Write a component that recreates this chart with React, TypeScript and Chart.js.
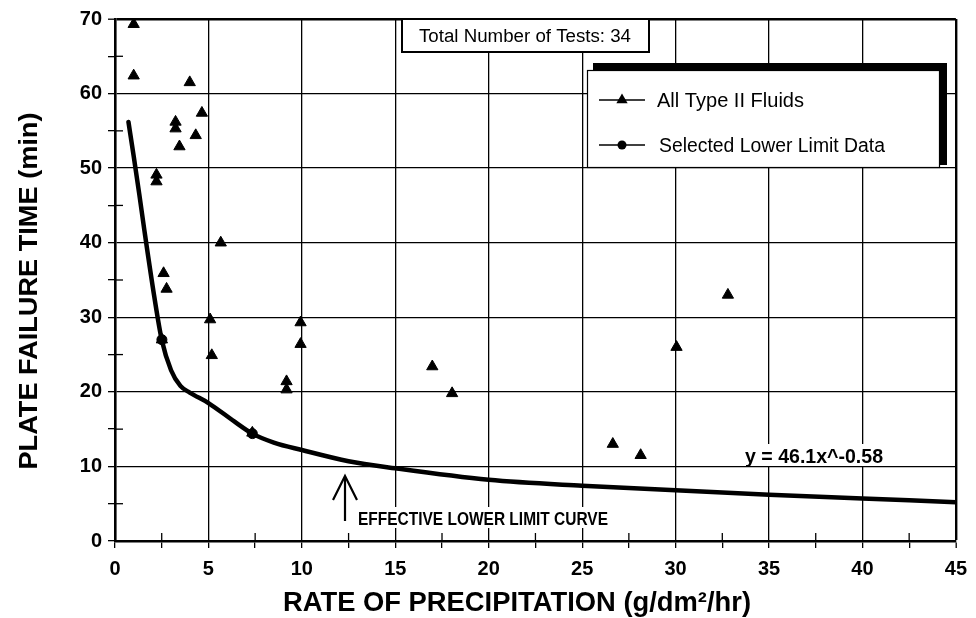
import React, { useEffect, useRef } from 'react';
import { Chart, registerables } from 'chart.js';

Chart.register(...registerables);

// ---- data ----
const fluidRate = [1.0, 1.0, 4.0, 4.65, 3.24, 3.24, 4.32, 3.45, 2.22, 2.22, 5.66, 2.6, 2.76, 2.51, 5.09, 5.18, 9.93, 9.93, 9.18, 9.18, 7.35, 16.98, 18.04, 26.64, 28.13, 30.05, 32.8];
const fluidTime = [69.3, 62.4, 61.5, 57.4, 56.2, 55.3, 54.4, 52.9, 49.1, 48.2, 40.0, 35.9, 33.8, 27.0, 29.7, 24.9, 29.3, 26.4, 21.4, 20.3, 14.5, 23.4, 19.8, 13.0, 11.5, 26.0, 33.0];

const selectedRate = [2.51, 7.35];
const selectedTime = [27.0, 14.4];

const curveRate = [0.72, 1.0, 1.3, 1.57, 2.1, 2.5, 3.0, 3.5, 4.0, 5.0, 6.4, 7.35, 8.5, 10, 12.5, 15, 20, 25, 30, 35, 40, 45];
const curveTime = [56.2, 51.6, 46.5, 41.7, 32.8, 27.0, 22.9, 20.8, 19.9, 18.5, 16.0, 14.4, 13.2, 12.2, 10.7, 9.75, 8.2, 7.4, 6.8, 6.2, 5.7, 5.2];

const xMin = 0, xMax = 45, xMajor = 5;
const yMin = 0, yMax = 70, yMajor = 10;

const xTitle = 'RATE OF PRECIPITATION (g/dm\u00B2/hr)';
const yTitle = 'PLATE FAILURE TIME (min)';
const legendLabels = ['All Type II Fluids', 'Selected Lower Limit Data'];
const totalText = 'Total Number of Tests: 34';
const equationText = 'y = 46.1x^-0.58';
const curveNote = 'EFFECTIVE LOWER LIMIT CURVE';

const SANS = '"Liberation Sans", Arial, Helvetica, sans-serif';

function hasFont(name: string): boolean {
  const c = document.createElement('canvas').getContext('2d');
  if (!c) return false;
  c.font = '40px monospace';
  const a = c.measureText('abcdefghij0123456789').width;
  c.font = `40px "${name}", monospace`;
  const b = c.measureText('abcdefghij0123456789').width;
  return Math.abs(a - b) > 0.5;
}

function fitText(ctx: CanvasRenderingContext2D, text: string, x: number, y: number, w: number, font: string, align: CanvasTextAlign = 'left') {
  ctx.save();
  ctx.font = font;
  const m = ctx.measureText(text).width;
  ctx.translate(x, y);
  ctx.scale(w / m, 1);
  ctx.textAlign = align;
  ctx.textBaseline = 'alphabetic';
  ctx.fillStyle = '#000';
  ctx.fillText(text, 0, 0);
  ctx.restore();
}

function seg(ctx: CanvasRenderingContext2D, x1: number, y1: number, x2: number, y2: number) {
  ctx.beginPath();
  ctx.moveTo(x1, y1);
  ctx.lineTo(x2, y2);
  ctx.stroke();
}

const overlay = {
  id: 'overlay',
  afterDraw(chart: any) {
    const ctx: CanvasRenderingContext2D = chart.ctx;
    const xs = chart.scales.x;
    const ys = chart.scales.y;
    const area = chart.chartArea;
    ctx.save();
    ctx.strokeStyle = '#000';
    ctx.fillStyle = '#000';

    // inner halves of the minor ticks
    ctx.lineWidth = 1.3;
    for (let v = yMin + yMajor / 2; v < yMax; v += yMajor) {
      const py = ys.getPixelForValue(v);
      seg(ctx, area.left, py, area.left + 8, py);
    }
    for (let v = xMin + xMajor / 2; v < xMax; v += xMajor) {
      const px = xs.getPixelForValue(v);
      seg(ctx, px, area.bottom, px, area.bottom - 8);
    }

    // equation label
    ctx.fillStyle = '#fff';
    ctx.fillRect(744, 444, 141, 22);
    fitText(ctx, equationText, 745, 463, 138, `bold 20px ${SANS}`);

    // effective lower limit curve note + arrow
    ctx.fillStyle = '#fff';
    ctx.fillRect(355, 507, 258, 21);
    fitText(ctx, curveNote, 358, 525, 250, `bold 18px ${SANS}`);
    ctx.lineWidth = 2.2;
    seg(ctx, 345, 477, 345, 521);
    ctx.beginPath();
    ctx.moveTo(333, 500);
    ctx.lineTo(345, 476);
    ctx.lineTo(357, 500);
    ctx.stroke();

    // total tests box
    ctx.fillStyle = '#fff';
    ctx.fillRect(402, 19, 247, 33);
    ctx.lineWidth = 2;
    ctx.strokeRect(402, 19, 247, 33);
    fitText(ctx, totalText, 525, 42, 212, `18px ${SANS}`, 'center');

    // legend with heavy shadow
    ctx.fillStyle = '#000';
    ctx.fillRect(593, 63, 354, 102);
    ctx.fillStyle = '#fff';
    ctx.fillRect(587, 70, 353, 98);
    ctx.lineWidth = 1.2;
    ctx.strokeRect(587.5, 70.5, 352, 97);
    ctx.fillStyle = '#000';
    const rows = [100, 145];
    ctx.lineWidth = 1.5;
    rows.forEach((ry) => seg(ctx, 599, ry, 645, ry));
    // triangle marker
    ctx.beginPath();
    const r = 6.5;
    const tx = 622, ty = rows[0];
    for (let k = 0; k < 3; k++) {
      const a = (k * 2 * Math.PI) / 3;
      const px = tx + Math.sin(a) * r;
      const py = ty - Math.cos(a) * r;
      if (k === 0) ctx.moveTo(px, py); else ctx.lineTo(px, py);
    }
    ctx.closePath();
    ctx.fill();
    ctx.beginPath();
    ctx.arc(622, rows[1], 4.5, 0, Math.PI * 2);
    ctx.fill();
    fitText(ctx, legendLabels[0], 657, rows[0] + 7, 147, `20px ${SANS}`);
    fitText(ctx, legendLabels[1], 659, rows[1] + 7, 226, `20px ${SANS}`);

    // axis titles
    fitText(ctx, xTitle, 283, 611, 468, `bold 27px ${SANS}`, 'left');
    ctx.save();
    ctx.translate(37, 291);
    ctx.rotate(-Math.PI / 2);
    fitText(ctx, yTitle, 0, 0, 357, `bold 26px ${SANS}`, 'center');
    ctx.restore();

    ctx.restore();
  },
};

export default function App() {
  const ref = useRef<HTMLCanvasElement>(null);

  useEffect(() => {
    document.body.style.margin = '0';
    document.body.style.overflow = 'hidden';
    const canvas = ref.current;
    if (!canvas) return;
    const narrow = hasFont('Liberation Sans Narrow');
    const tickFont: any = {
      family: narrow ? '"Liberation Sans Narrow", "Liberation Sans", Arial' : SANS,
      size: narrow ? 23 : 20,
      weight: 'bold',
    };
    const isMult = (v: number, m: number) => Math.abs(v / m - Math.round(v / m)) < 1e-6;

    const chart = new Chart(canvas, {
      type: 'scatter',
      data: {
        datasets: [
          {
            label: legendLabels[0],
            data: fluidRate.map((x, i) => ({ x, y: fluidTime[i] })),
            pointStyle: 'triangle',
            pointRadius: 6.5,
            pointHoverRadius: 6.5,
            backgroundColor: '#000',
            borderColor: '#000',
            borderWidth: 1,
            showLine: false,
            order: 0,
          },
          {
            label: legendLabels[1],
            data: selectedRate.map((x, i) => ({ x, y: selectedTime[i] })),
            pointStyle: 'circle',
            pointRadius: 5,
            backgroundColor: '#000',
            borderColor: '#000',
            showLine: false,
            order: 1,
          },
          {
            label: 'Effective lower limit curve',
            data: curveRate.map((x, i) => ({ x, y: curveTime[i] })),
            showLine: true,
            pointRadius: 0,
            borderColor: '#000',
            backgroundColor: '#000',
            borderWidth: 4.5,
            cubicInterpolationMode: 'monotone',
            borderCapStyle: 'round',
            borderJoinStyle: 'round',
            fill: false,
            order: 2,
          } as any,
        ],
      },
      options: {
        responsive: false,
        animation: false,
        devicePixelRatio: 1,
        layout: { padding: { left: 0, top: 19, right: 19, bottom: 0 } },
        plugins: {
          legend: { display: false },
          tooltip: { enabled: false },
        },
        scales: {
          x: {
            type: 'linear',
            min: xMin,
            max: xMax,
            afterFit: (s: any) => { s.height = 77; },
            ticks: {
              stepSize: xMajor / 2,
              autoSkip: false,
              maxRotation: 0,
              minRotation: 0,
              color: '#000',
              font: tickFont,
              padding: 9,
              callback: (v: any) => (isMult(Number(v), xMajor) ? String(v) : ''),
            },
            grid: {
              color: (c: any) => (c.tick && isMult(c.tick.value, xMajor) ? '#000' : 'rgba(0,0,0,0)'),
              lineWidth: (c: any) => (c.tick && c.tick.value === xMax ? 2.4 : 1.3),
              tickColor: '#000',
              tickWidth: 1.3,
              tickLength: 7,
            },
            border: { display: true, color: '#000', width: 2.6 },
          },
          y: {
            type: 'linear',
            min: yMin,
            max: yMax,
            afterFit: (s: any) => { s.width = 115; },
            ticks: {
              stepSize: yMajor / 2,
              autoSkip: false,
              color: '#000',
              font: tickFont,
              padding: 6,
              callback: (v: any) => (isMult(Number(v), yMajor) ? String(v) : ''),
            },
            grid: {
              color: (c: any) => (c.tick && isMult(c.tick.value, yMajor) ? '#000' : 'rgba(0,0,0,0)'),
              lineWidth: (c: any) => (c.tick && c.tick.value === yMax ? 2.4 : 1.3),
              tickColor: '#000',
              tickWidth: 1.3,
              tickLength: 7,
            },
            border: { display: true, color: '#000', width: 2.6 },
          },
        },
      },
      plugins: [overlay],
    });
    return () => chart.destroy();
  }, []);

  return (
    <canvas
      ref={ref}
      width={976}
      height={618}
      style={{ display: 'block', width: '976px', height: '618px', background: '#fff' }}
    />
  );
}
